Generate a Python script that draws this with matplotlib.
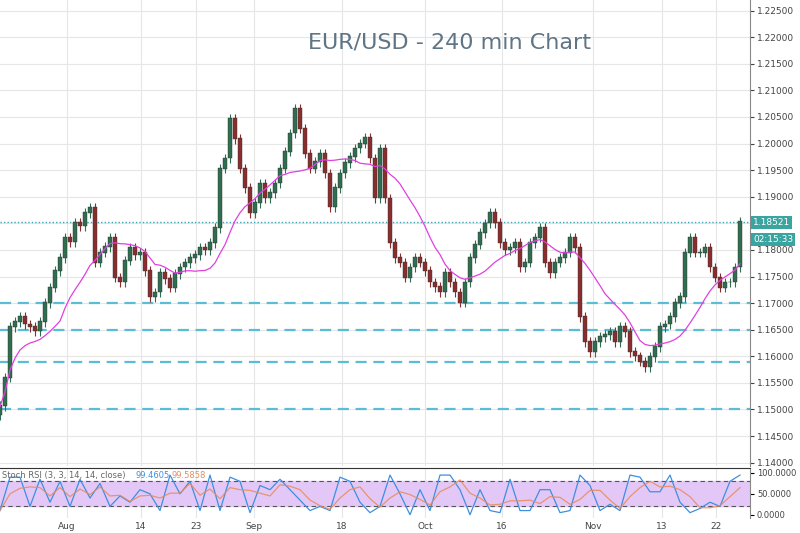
import numpy as np
import pandas as pd
import matplotlib
matplotlib.use("Agg")
import matplotlib.pyplot as plt

close = [1.1506,1.1560,1.1655,1.1665,1.1674,1.1660,1.1655,1.1648,1.1664,1.1700,1.1729,1.1760,1.1785,1.1823,1.1815,1.1851,1.1845,1.1869,1.1879,1.1776,
1.1795,1.1805,1.1823,1.1748,1.1739,1.1780,1.1804,1.1790,1.1795,1.1760,1.1711,1.1720,1.1757,1.1745,1.1729,1.1755,1.1767,1.1775,1.1785,1.1790,
1.1804,1.1800,1.1813,1.1841,1.1953,1.1972,1.2047,1.2009,1.1953,1.1916,1.1869,1.1888,1.1925,1.1897,1.1907,1.1925,1.1953,1.1985,1.2019,1.2065,
1.2028,1.1981,1.1953,1.1965,1.1981,1.1944,1.1880,1.1916,1.1944,1.1963,1.1975,1.1991,1.2000,1.2010,1.1972,1.1897,1.1991,1.1897,1.1813,1.1785,
1.1776,1.1748,1.1767,1.1785,1.1776,1.1760,1.1739,1.1730,1.1720,1.1757,1.1739,1.1720,1.1701,1.1739,1.1785,1.1810,1.1832,1.1850,1.1869,1.1851,
1.1813,1.1800,1.1804,1.1813,1.1767,1.1776,1.1813,1.1823,1.1841,1.1776,1.1757,1.1776,1.1785,1.1795,1.1823,1.1804,1.1674,1.1627,1.1608,1.1627,
1.1636,1.1640,1.1646,1.1627,1.1655,1.1646,1.1608,1.1600,1.1590,1.1580,1.1599,1.1618,1.1655,1.1660,1.1674,1.1700,1.1711,1.1795,1.1823,1.1795,
1.1795,1.1804,1.1767,1.1748,1.1729,1.1739,1.1739,1.1767,1.1852]
first_open = 1.1490
stoch_k = [10,90,90,20,85,30,80,20,85,40,75,20,45,30,60,50,10,95,50,80,10,95,10,90,80,5,70,60,85,60,35,10,20,10,90,80,30,5,20,95,
50,0,60,10,95,95,60,0,60,10,5,85,10,10,60,60,5,10,95,70,10,25,10,95,90,55,55,95,30,5,15,30,20,80,95]
levels = [1.17, 1.165, 1.159, 1.15]
last_price = 1.18521
price_ticks = [1.14 + 0.005*i for i in range(18)]
date_labels = ["Aug","14","23","Sep","18","Oct","16","Nov","13","22"]
date_pos = [67,141,196,254,342,425,502,593,662,716]

bar_step = 5
x = np.arange(len(close))*bar_step
c = np.array(close)
o = np.concatenate([[first_open], c[:-1]])
hi = np.maximum(o, c) + 0.0009
lo = np.minimum(o, c) - 0.0009
ma = pd.Series(close).rolling(13, min_periods=1).mean()

fig = plt.figure(figsize=(8, 5.33), dpi=100)
ax = fig.add_axes([0, 0.126, 0.9375, 0.874])
ax2 = fig.add_axes([0, 0.028, 0.9375, 0.094])
grid_c = "#e6e6e6"
for xp in date_pos:
    ax.axvline(xp, color=grid_c, lw=0.8, zorder=0)
    ax2.axvline(xp, color=grid_c, lw=0.8, zorder=0)
for p in price_ticks:
    ax.axhline(p, color=grid_c, lw=0.8, zorder=0)
for lv in levels:
    ax.axhline(lv, color="#5bbcd6", lw=1.6, ls=(0, (5, 3)), zorder=1)
ax.axhline(last_price, color="#3aa5b5", lw=1.0, ls=(0, (1, 1.5)), zorder=1)

up = c >= o
col = np.where(up, "#2f6e50", "#8a2d2d")
ax.vlines(x, lo, hi, color=col, lw=0.8, zorder=2)
ax.bar(x, np.abs(c - o) + 0.00015, bottom=np.minimum(o, c), width=3.2, color=col, edgecolor="#333333", lw=0.3, zorder=3)
ax.plot(x, ma, color="#e040e0", lw=0.9, zorder=4)

ax.set_xlim(0, 750)
ax.set_ylim(1.1394, 1.2270)
ax.yaxis.tick_right()
ax.set_yticks(price_ticks)
ax.set_yticklabels(["" if abs(p - 1.185) < 1e-6 else f"{p:.5f}" for p in price_ticks], fontsize=6.5, color="#444444")
ax.tick_params(axis="y", length=3, pad=2, colors="#444444")
ax.set_xticks([])
for s in ["top", "left", "bottom"]:
    ax.spines[s].set_visible(False)
ax.spines["right"].set_color("#888888")
ax.text(450, 1.2190, "EUR/USD - 240 min Chart", fontsize=16, color="#5f7585", ha="center", va="center")
ax.text(753, last_price, "1.18521", fontsize=6.5, color="white", va="center", ha="left",
        bbox=dict(boxstyle="square,pad=0.2", fc="#3aa5a0", ec="none"), clip_on=False)
ax.text(753, last_price - 0.0033, "02:15:33", fontsize=6.5, color="white", va="center", ha="left",
        bbox=dict(boxstyle="square,pad=0.2", fc="#3aa5a0", ec="none"), clip_on=False)

xs = np.arange(len(stoch_k))*10
d = pd.Series(stoch_k).rolling(3, min_periods=1).mean()
ax2.axhspan(20, 80, color="#e3c8f7", zorder=0)
ax2.axhline(80, color="#555555", lw=0.8, ls=(0, (4, 3)))
ax2.axhline(20, color="#555555", lw=0.8, ls=(0, (4, 3)))
ax2.plot(xs, stoch_k, color="#3d8fe0", lw=0.9)
ax2.plot(xs, d, color="#e88a5a", lw=0.9, alpha=0.85)
ax2.set_xlim(0, 750)
ax2.set_ylim(-8, 112)
ax2.yaxis.tick_right()
ax2.set_yticks([0, 50, 100])
ax2.set_yticklabels(["0.0000", "50.0000", "100.0000"], fontsize=6, color="#444444")
ax2.tick_params(axis="y", length=3, pad=2)
ax2.set_xticks(date_pos)
ax2.set_xticklabels(date_labels, fontsize=6.5, color="#444444")
ax2.tick_params(axis="x", length=0, pad=3)
for s in ["left", "bottom"]:
    ax2.spines[s].set_visible(False)
ax2.spines["top"].set_color("#333333")
ax2.spines["right"].set_color("#888888")
ax2.text(2, 95, "Stoch RSI (3, 3, 14, 14, close)", fontsize=6, color="#666666", va="center")
ax2.text(135, 95, "99.4605", fontsize=6, color="#3d8fe0", va="center")
ax2.text(172, 95, "99.5858", fontsize=6, color="#e88a5a", va="center")
fig.savefig("out.png", dpi=100)
